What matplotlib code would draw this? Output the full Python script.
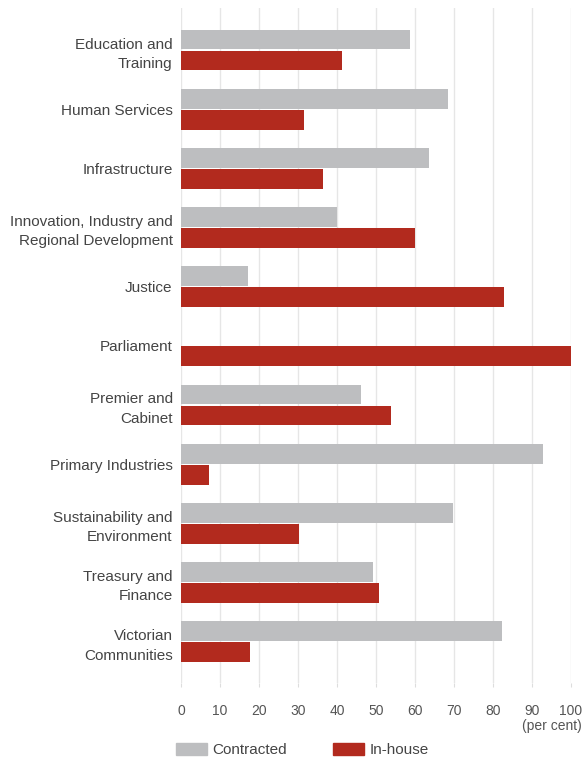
import numpy as np
import matplotlib.pyplot as plt
from matplotlib.patches import Patch

categories = [
    "Education and\nTraining",
    "Human Services",
    "Infrastructure",
    "Innovation, Industry and\nRegional Development",
    "Justice",
    "Parliament",
    "Premier and\nCabinet",
    "Primary Industries",
    "Sustainability and\nEnvironment",
    "Treasury and\nFinance",
    "Victorian\nCommunities",
]
contracted = [58.6, 68.5, 63.6, 40.0, 17.2, 0.0, 46.2, 92.8, 69.7, 49.2, 82.3]
in_house = [41.4, 31.5, 36.4, 60.0, 82.8, 100.0, 53.8, 7.2, 30.3, 50.8, 17.7]
xticks = list(range(0, 101, 10))

GREY = "#bdbec0"
RED = "#b22a1e"
TEXT = "#444444"

plt.rcParams["font.family"] = ["Liberation Sans", "DejaVu Sans"]

fig = plt.figure(figsize=(5.83, 7.58), dpi=100)
ax = fig.add_axes([181 / 583, 1 - 683 / 758, 390 / 583, 675 / 758])

y = np.arange(len(categories))
h = 0.335
ax.barh(y - h / 2 - 0.01, contracted, height=h, color=GREY, zorder=2)
ax.barh(y + h / 2 + 0.01, in_house, height=h, color=RED, zorder=2)

ax.set_xlim(0, 100)
ax.set_ylim(len(categories) - 1 + 0.7, -0.71)
ax.set_yticks(y)
ax.set_yticklabels(categories, fontsize=11, color=TEXT, linespacing=1.5,
                   multialignment="right")
ax.set_xticks(xticks)
ax.set_xticklabels([str(t) for t in xticks], fontsize=10, color="#555555")
ax.tick_params(axis="y", length=0, pad=6)
ax.tick_params(axis="x", length=3, color="#dddddd", pad=12)
ax.grid(axis="x", color="#e6e6e6", linewidth=1, zorder=0)
for s in ax.spines.values():
    s.set_visible(False)

fig.text(582 / 583, 1 - 726 / 758, "(per cent)", ha="right", va="center",
         fontsize=10, color="#555555")

handles = [Patch(color=GREY, label="Contracted"), Patch(color=RED, label="In-house")]
fig.legend(handles=handles, loc="center left", bbox_to_anchor=(176 / 583, 1 - 750 / 758),
           ncol=2, frameon=False, fontsize=11, handlelength=2.0, handleheight=0.9,
           columnspacing=3.0, handletextpad=0.4, borderpad=0, borderaxespad=0,
           labelcolor=TEXT)

fig.savefig("out.png", dpi=100)
